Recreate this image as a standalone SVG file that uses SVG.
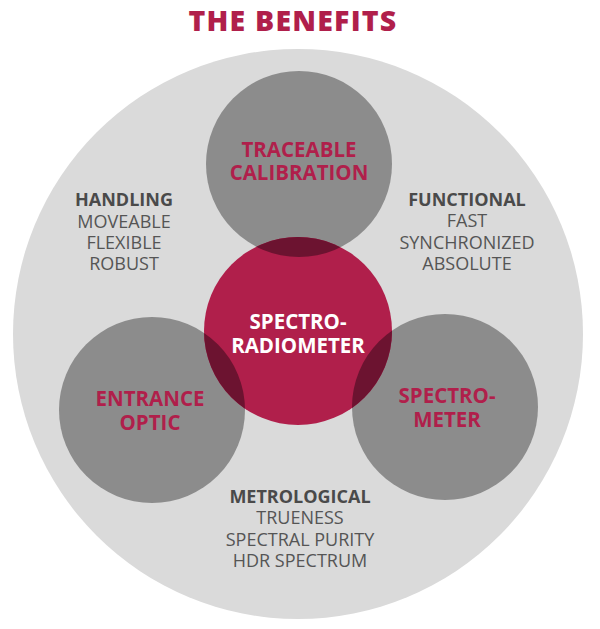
<svg xmlns="http://www.w3.org/2000/svg" width="600" height="629" viewBox="0 0 600 629">
<style>
text{font-family:"Open Sans","Liberation Sans",sans-serif;text-anchor:middle}
.title{font-size:28.5px;font-weight:800;fill:#b01f4b;letter-spacing:1.2px}
.lbl{font-size:20.5px;font-weight:700;fill:#b01f4b}
.wlbl{font-size:20.5px;font-weight:700;fill:#ffffff}
.hd{font-size:18px;font-weight:700;fill:#4a4a4a}
.it{font-size:18px;font-weight:400;fill:#555555}
.gray{fill:#8c8c8c}
.red{fill:#b01f4b}
.dark{fill:#6c1330}
</style>
<defs>
<clipPath id="cT"><circle cx="299" cy="164" r="93"/></clipPath>
<clipPath id="cL"><circle cx="152" cy="410" r="93"/></clipPath>
<clipPath id="cR"><circle cx="445" cy="407" r="93"/></clipPath>
</defs>
<rect width="600" height="629" fill="#ffffff"/>
<text class="title" x="293" y="31">THE BENEFITS</text>
<g id="outer">
<circle cx="298" cy="334" r="285" fill="#dadada"/>
<text class="hd" x="124" y="206">HANDLING</text>
<text class="it" x="124" y="228">MOVEABLE</text>
<text class="it" x="124" y="249">FLEXIBLE</text>
<text class="it" x="124" y="270">ROBUST</text>
<text class="hd" x="467" y="206">FUNCTIONAL</text>
<text class="it" x="467" y="227">FAST</text>
<text class="it" x="467" y="249">SYNCHRONIZED</text>
<text class="it" x="467" y="270">ABSOLUTE</text>
<text class="hd" x="300" y="503">METROLOGICAL</text>
<text class="it" x="300" y="524">TRUENESS</text>
<text class="it" x="300" y="546">SPECTRAL PURITY</text>
<text class="it" x="300" y="567">HDR SPECTRUM</text>
</g>
<g id="traceable">
<circle class="gray" cx="299" cy="164" r="93"/>
</g>
<g id="entrance">
<circle class="gray" cx="152" cy="410" r="93"/>
</g>
<g id="spectrometer">
<circle class="gray" cx="445" cy="407" r="93"/>
</g>
<g id="spectroradiometer">
<circle class="red" cx="298" cy="331" r="94"/>
<circle class="dark" cx="298" cy="331" r="94" clip-path="url(#cT)"/>
<circle class="dark" cx="298" cy="331" r="94" clip-path="url(#cL)"/>
<circle class="dark" cx="298" cy="331" r="94" clip-path="url(#cR)"/>
</g>
<g id="labels">
<text class="lbl" x="299" y="157">TRACEABLE</text>
<text class="lbl" x="299" y="180">CALIBRATION</text>
<text class="lbl" x="150" y="406">ENTRANCE</text>
<text class="lbl" x="150" y="430">OPTIC</text>
<text class="lbl" x="447" y="403">SPECTRO-</text>
<text class="lbl" x="447" y="427">METER</text>
<text class="wlbl" x="298" y="329">SPECTRO-</text>
<text class="wlbl" x="298" y="353">RADIOMETER</text>
</g>
<g id="connectors"/>
</svg>
